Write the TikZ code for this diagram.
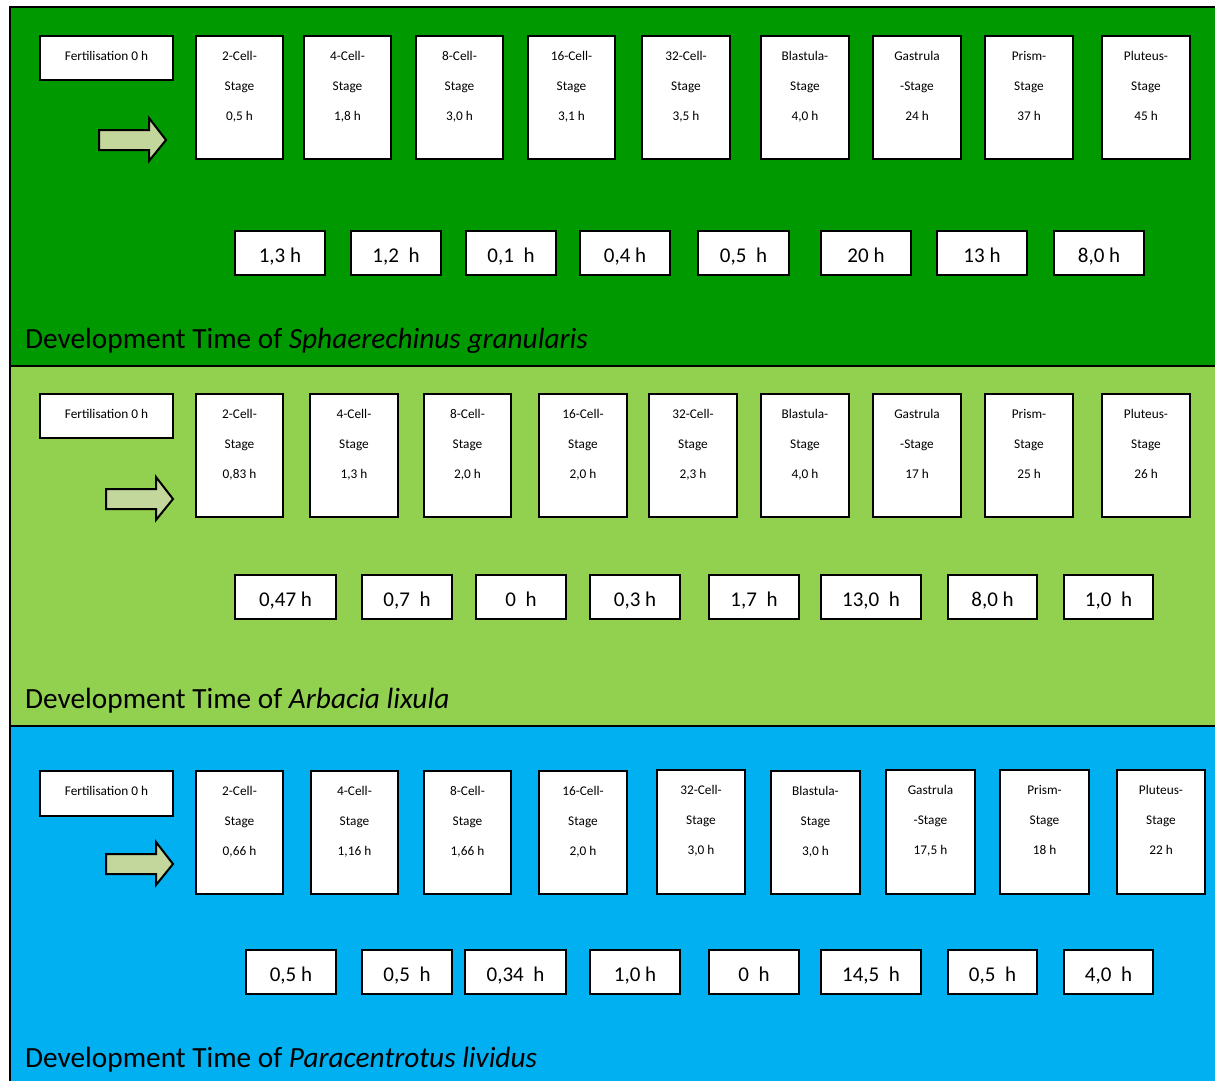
\documentclass[tikz,border=0pt]{standalone}
\usepackage{fontspec}
\setmainfont{Carlito}
\definecolor{topg}{RGB}{0,153,0}
\definecolor{midg}{RGB}{146,208,80}
\definecolor{botb}{RGB}{0,176,240}
\definecolor{arrowf}{RGB}{195,214,155}
\tikzset{
 stagebox/.style={draw=black, line width=2pt, fill=white, inner sep=0pt, outer sep=0pt},
 stagetext/.style={font=\fontsize{13.3}{16}\selectfont, anchor=base, inner sep=0pt},
 durbox/.style={draw=black, line width=2pt, fill=white, inner sep=0pt, outer sep=0pt, text height=18pt, text depth=0pt, font=\fontsize{21}{25}\selectfont},
 panelline/.style={draw=black, line width=2.5pt},
 titletext/.style={font=\fontsize{29.3}{34}\selectfont, anchor=base west, inner sep=0pt},
 bigarrow/.style={draw=black, line width=2pt, fill=arrowf, line join=miter}
}
\newcommand\stg[8]{%
 \node[stagebox, minimum width={#4-#2}, minimum height={#5-#3}] (#1) at ({(#2+#4)/2},{(#3+#5)/2}) {};
 \node[stagetext] (#1a) at ([yshift=-24.5pt]#1.north) {#6};
 \node[stagetext] (#1b) at ([yshift=-54.5pt]#1.north) {#7};
 \node[stagetext] (#1c) at ([yshift=-84.5pt]#1.north) {#8};}
\newcommand\fert[5]{%
 \node[stagebox, minimum width={#4-#2}, minimum height={#5-#3}] (#1) at ({(#2+#4)/2},{(#3+#5)/2}) {};
 \node[stagetext] (#1a) at ([yshift=-24.5pt]#1.north) {Fertilisation 0 h};}
\newcommand\dur[6]{%
 \node[durbox, minimum width={#4-#2}, minimum height={#5-#3}] (#1) at ({(#2+#4)/2},{(#3+#5)/2}) {#6};}
\newcommand\barrow[3]{%
 \coordinate (#1) at (#2,#3);
 \draw[bigarrow] ([yshift=10pt]#1) -- ++(50,0) -- ++(0,-12) -- ++(17,22) -- ++(-17,21) -- ++(0,-11) -- ++(-50,0) -- cycle;}
\begin{document}
\begin{tikzpicture}[x=1pt,y=-1pt]
\useasboundingbox (0,0) rectangle (1215,1081);
\clip (0,0) rectangle (1215,1081);
\fill[white] (0,0) rectangle (1215,1081);
\fill[topg] (10,7) rectangle (1240,366);
\fill[midg] (10,366) rectangle (1240,726);
\fill[botb] (10,726) rectangle (1240,1100);
\draw[panelline] (1240,7) -- (10,7) -- (10,1100);
\draw[panelline] (10,366) -- (1240,366);
\draw[panelline] (10,726) -- (1240,726);

% ---------- top panel
\fert{A0}{40}{36}{173}{80}
\stg{A1}{196}{36}{283}{159}{2-Cell-}{Stage}{0,5 h}
\stg{A2}{304}{36}{391}{159}{4-Cell-}{Stage}{1,8 h}
\stg{A3}{416}{36}{503}{159}{8-Cell-}{Stage}{3,0 h}
\stg{A4}{528}{36}{615}{159}{16-Cell-}{Stage}{3,1 h}
\stg{A5}{642}{36}{730}{159}{32-Cell-}{Stage}{3,5 h}
\stg{A6}{761}{36}{849}{159}{Blastula-}{Stage}{4,0 h}
\stg{A7}{873}{36}{961}{159}{Gastrula}{-Stage}{24 h}
\stg{A8}{985}{36}{1073}{159}{Prism-}{Stage}{37 h}
\stg{A9}{1102}{36}{1190}{159}{Pluteus-}{Stage}{45 h}
\barrow{Aarr}{99}{140}
\dur{AD1}{235}{231}{325}{275}{1,3 h}
\dur{AD2}{351}{231}{441}{275}{1,2\ \ h}
\dur{AD3}{466}{231}{556}{275}{0,1\ \ h}
\dur{AD4}{580}{231}{670}{275}{0,4 h}
\dur{AD5}{698}{231}{789}{275}{0,5\ \ h}
\dur{AD6}{821}{231}{911}{275}{20 h}
\dur{AD7}{937}{231}{1027}{275}{13 h}
\dur{AD8}{1054}{231}{1144}{275}{8,0 h}
\node[titletext] (T1) at (25,348) {Development Time of \textit{Sphaerechinus granularis}};

% ---------- middle panel
\fert{B0}{40}{394}{173}{438}
\stg{B1}{196}{394}{283}{517}{2-Cell-}{Stage}{0,83 h}
\stg{B2}{310}{394}{398}{517}{4-Cell-}{Stage}{1,3 h}
\stg{B3}{424}{394}{511}{517}{8-Cell-}{Stage}{2,0 h}
\stg{B4}{539}{394}{627}{517}{16-Cell-}{Stage}{2,0 h}
\stg{B5}{649}{394}{737}{517}{32-Cell-}{Stage}{2,3 h}
\stg{B6}{761}{394}{849}{517}{Blastula-}{Stage}{4,0 h}
\stg{B7}{873}{394}{961}{517}{Gastrula}{-Stage}{17 h}
\stg{B8}{985}{394}{1073}{517}{Prism-}{Stage}{25 h}
\stg{B9}{1102}{394}{1190}{517}{Pluteus-}{Stage}{26 h}
\barrow{Barr}{106}{499}
\dur{BD1}{235}{575}{336}{619}{0,47 h}
\dur{BD2}{362}{575}{452}{619}{0,7\ \ h}
\dur{BD3}{476}{575}{566}{619}{0\ \ h}
\dur{BD4}{590}{575}{680}{619}{0,3 h}
\dur{BD5}{709}{575}{799}{619}{1,7\ \ h}
\dur{BD6}{821}{575}{921}{619}{13,0\ \ h}
\dur{BD7}{948}{575}{1037}{619}{8,0 h}
\dur{BD8}{1064}{575}{1153}{619}{1,0\ \ h}
\node[titletext] (T2) at (25,708) {Development Time of \textit{Arbacia lixula}};

% ---------- bottom panel
\fert{C0}{40}{771}{173}{816}
\stg{C1}{196}{771}{283}{894}{2-Cell-}{Stage}{0,66 h}
\stg{C2}{311}{771}{398}{894}{4-Cell-}{Stage}{1,16 h}
\stg{C3}{424}{771}{511}{894}{8-Cell-}{Stage}{1,66 h}
\stg{C4}{539}{771}{627}{894}{16-Cell-}{Stage}{2,0 h}
\stg{C5}{657}{770}{745}{894}{32-Cell-}{Stage}{3,0 h}
\stg{C6}{771}{771}{860}{894}{Blastula-}{Stage}{3,0 h}
\stg{C7}{886}{770}{975}{894}{Gastrula}{-Stage}{17,5 h}
\stg{C8}{1000}{770}{1089}{894}{Prism-}{Stage}{18 h}
\stg{C9}{1117}{770}{1205}{894}{Pluteus-}{Stage}{22 h}
\barrow{Carr}{106}{864}
\dur{CD1}{246}{950}{336}{994}{0,5 h}
\dur{CD2}{362}{950}{452}{994}{0,5\ \ h}
\dur{CD3}{465}{950}{566}{994}{0,34\ \ h}
\dur{CD4}{590}{950}{680}{994}{1,0 h}
\dur{CD5}{709}{950}{799}{994}{0\ \ h}
\dur{CD6}{821}{950}{921}{994}{14,5\ \ h}
\dur{CD7}{948}{950}{1037}{994}{0,5\ \ h}
\dur{CD8}{1064}{950}{1153}{994}{4,0\ \ h}
\node[titletext] (T3) at (25,1067) {Development Time of \textit{Paracentrotus lividus}};
\end{tikzpicture}
\end{document}
